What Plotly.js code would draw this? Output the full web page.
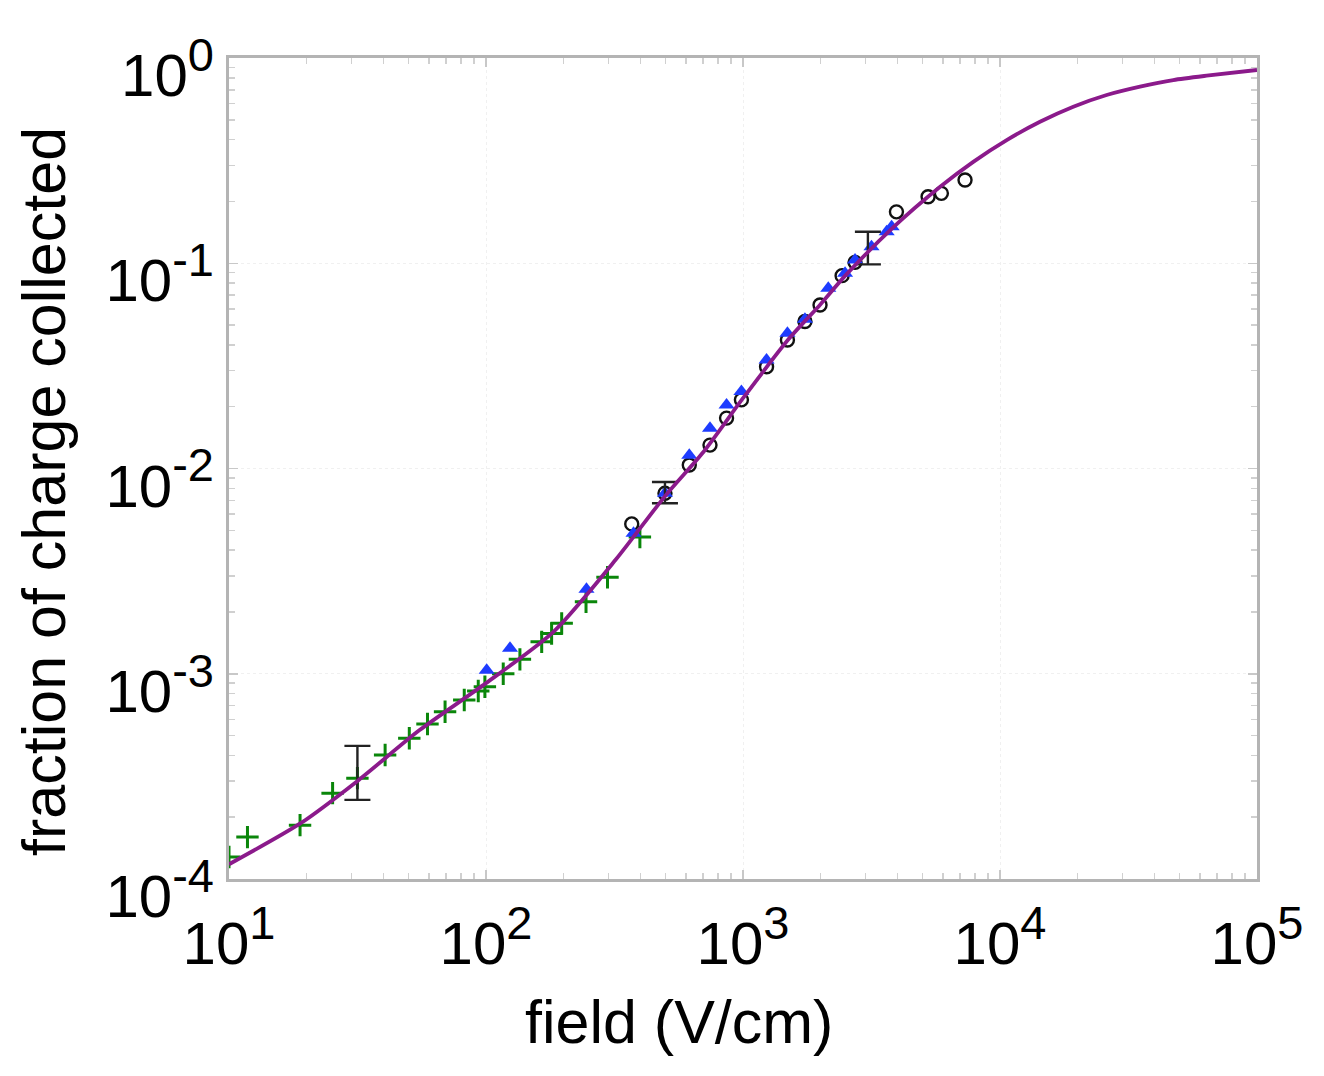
<!DOCTYPE html>
<html><head><meta charset="utf-8">
<script src="https://cdn.plot.ly/plotly-3.0.1.min.js"></script>
<style>html,body{margin:0;padding:0;background:#fff;}#chart{width:1324px;height:1076px;}</style>
</head><body><div id="chart"></div>
<script>
// Fit curve
const curveX = [10, 19, 32, 55, 100, 183, 320, 500, 700, 1000, 1500, 2000, 2500, 3850, 5850, 7870, 10620, 14310, 19290, 26000, 35060, 47240, 63680, 100000];
const curveY = [1.18e-4, 1.87e-4, 3.04e-4, 5.3e-4, 9.0e-4, 1.6e-3, 3.6e-3, 7.4e-3, 1.2e-2, 2.2e-2, 4.25e-2, 6.3e-2, 8.7e-2, 0.15, 0.236, 0.312, 0.398, 0.489, 0.579, 0.660, 0.725, 0.781, 0.820, 0.874];

// Green crosses
const crossX = [10, 11.8, 18.9, 25.3, 31.6, 40.5, 50.3, 59.2, 69.3, 82.3, 93.3, 99, 116.7, 135.5, 164.7, 180, 197, 245, 297, 397];
const crossY = [1.28e-4, 1.6e-4, 1.83e-4, 2.62e-4, 3.1e-4, 4.02e-4, 4.85e-4, 5.69e-4, 6.53e-4, 7.45e-4, 8.24e-4, 8.65e-4, 1.0e-3, 1.175e-3, 1.43e-3, 1.57e-3, 1.76e-3, 2.24e-3, 2.95e-3, 4.64e-3];

// Blue triangles
const triX = [100.6, 124, 246, 375, 497, 618, 744, 863, 986, 1235, 1489, 1742, 2147, 2495, 2729, 3162, 3623, 3787];
const triY = [1.04e-3, 1.33e-3, 2.58e-3, 4.83e-3, 7.57e-3, 1.16e-2, 1.57e-2, 2.04e-2, 2.37e-2, 3.38e-2, 4.56e-2, 5.33e-2, 7.55e-2, 8.94e-2, 0.1037, 0.1205, 0.1425, 0.1507];

// Open circles
const circX = [369, 497, 618, 744, 863, 986, 1235, 1489, 1742, 1994, 2430, 2729, 3954, 5250, 5915, 7310];
const circY = [5.37e-3, 7.57e-3, 1.04e-2, 1.30e-2, 1.76e-2, 2.16e-2, 3.13e-2, 4.23e-2, 5.2e-2, 6.26e-2, 8.7e-2, 0.101, 0.178, 0.211, 0.219, 0.2545];

// Error bars
const errX = [31.6, 497, 3062];
const errY = [3.1e-4, 7.57e-3, 0.12];
const errPlus = [1.35e-4, 1.03e-3, 0.0225];
const errMinus = [0.67e-4, 0.8e-3, 0.0212];

// Tick labels
const SUP = '<span style="font-size:47px">';
const xTickVals = [10, 100, 1000, 10000, 100000];
const xTickText = ['10<sup>' + SUP + '1</span></sup>', '10<sup>' + SUP + '2</span></sup>', '10<sup>' + SUP + '3</span></sup>', '10<sup>' + SUP + '4</span></sup>', '10<sup>' + SUP + '5</span></sup>'];
const yTickVals = [1e-4, 1e-3, 1e-2, 1e-1, 1];
const yTickText = ['10<sup>' + SUP + '-4</span></sup>', '10<sup>' + SUP + '-3</span></sup>', '10<sup>' + SUP + '-2</span></sup>', '10<sup>' + SUP + '-1</span></sup>', '10<sup>' + SUP + '0</span></sup>'];

const xTitle = 'field (V/cm)';
const yTitle = 'fraction of charge collected';

function minorVals(lo, hi) {
  const v = [];
  for (let e = lo; e < hi; e++) for (let d = 2; d <= 9; d++) v.push(d * Math.pow(10, e));
  return v;
}

const traces = [
  {x: crossX, y: crossY, mode: 'markers', type: 'scatter',
   marker: {symbol: 'cross-thin-open', size: 16, color: '#0a860a', line: {color: '#0a860a', width: 3}}},
  {x: circX, y: circY, mode: 'markers', type: 'scatter',
   marker: {symbol: 'circle-open', size: 13, color: '#111', line: {color: '#111', width: 2.4}}},
  {x: triX, y: triY, mode: 'markers', type: 'scatter',
   marker: {symbol: 'triangle-up', size: 14, color: '#1e3cff', line: {width: 0}}},
  {x: errX, y: errY, mode: 'markers', type: 'scatter',
   marker: {size: 2, color: 'rgba(0,0,0,0)'},
   error_y: {type: 'data', symmetric: false, array: errPlus, arrayminus: errMinus, color: '#222', thickness: 2.4, width: 13}},
  {x: curveX, y: curveY, mode: 'lines', type: 'scatter',
   line: {color: '#8b1a8b', width: 3.8, shape: 'spline', smoothing: 0.7}}
];

const axisCommon = {
  type: 'log', showline: true, linecolor: '#b4b4b4', linewidth: 3, mirror: 'allticks',
  ticks: 'inside', ticklen: 9, tickcolor: '#c8c8c8', tickwidth: 1.5,
  showgrid: true, gridcolor: '#f0f0f0', griddash: 'dot', gridwidth: 1,
  zeroline: false, tickmode: 'array',
  tickfont: {family: 'Liberation Sans, Arial, sans-serif', size: 60, color: '#000'}
};

const layout = {
  width: 1324, height: 1076,
  margin: {l: 229, r: 67, t: 58, b: 197},
  paper_bgcolor: '#fff', plot_bgcolor: '#fff',
  showlegend: false,
  font: {family: 'Liberation Sans, Arial, sans-serif', color: '#000'},
  xaxis: Object.assign({}, axisCommon, {
    range: [1, 5], tickvals: xTickVals, ticktext: xTickText, ticklabelstandoff: 10,
    minor: {tickmode: 'array', tickvals: minorVals(1, 5), ticks: 'inside', ticklen: 6, tickcolor: '#d0d0d0', tickwidth: 1.5, showgrid: false}
  }),
  yaxis: Object.assign({}, axisCommon, {
    range: [-4, 0], tickvals: yTickVals, ticktext: yTickText, ticklabelshift: 17, ticklabelstandoff: 0,
    minor: {tickmode: 'array', tickvals: minorVals(-4, 0), ticks: 'inside', ticklen: 6, tickcolor: '#d0d0d0', tickwidth: 1.5, showgrid: false}
  }),
  annotations: [
    {text: xTitle, xref: 'paper', yref: 'paper', x: 0.4377, y: -0.1742, xanchor: 'center', yanchor: 'middle',
     showarrow: false, font: {family: 'Liberation Sans, Arial, sans-serif', size: 61, color: '#000'}},
    {text: yTitle, xref: 'paper', yref: 'paper', x: -0.18, y: 0.4726, xanchor: 'center', yanchor: 'middle',
     textangle: -90, showarrow: false, font: {family: 'Liberation Sans, Arial, sans-serif', size: 61, color: '#000'}}
  ]
};

Plotly.newPlot('chart', traces, layout, {displayModeBar: false, staticPlot: true});
</script>
</body></html>
